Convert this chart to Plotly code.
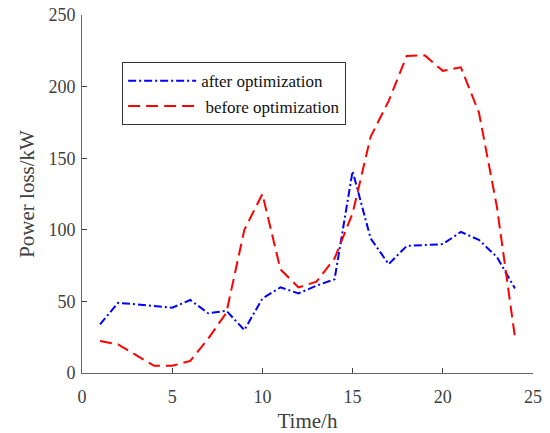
import plotly.graph_objects as go

hours = list(range(1, 25))
after_opt = [34, 49, 48, 47, 45.6, 51, 41.7, 43.5, 30, 52, 59.8, 55.6, 61, 65.4,
             141, 94, 76, 88.7, 89.5, 90, 98.5, 93, 81, 59]
before_opt = [22.3, 20, 12.5, 5, 5, 8.4, 24, 42, 100, 125, 72.4, 59.8, 63.8, 80,
              111.5, 165, 190, 221.4, 221.8, 211, 213.5, 182, 116, 24.9]

x_ticks = [0, 5, 10, 15, 20, 25]
y_ticks = [0, 50, 100, 150, 200, 250]

font_family = "Liberation Serif, Times New Roman, serif"

fig = go.Figure()
fig.add_trace(go.Scatter(
    x=hours, y=after_opt, mode="lines", name="after optimization",
    line=dict(color="#0000FF", width=2, dash="8px,3px,2px,3px"),
))
fig.add_trace(go.Scatter(
    x=hours, y=before_opt, mode="lines", name=" before optimization",
    line=dict(color="#FF0000", width=2, dash="12px,6px"),
))

axis_common = dict(
    showgrid=False, zeroline=False, showline=True, linecolor="#666666", linewidth=1,
    ticks="inside", ticklen=5, tickcolor="#444444",
    tickfont=dict(family=font_family, size=18, color="#404040"),
    mirror=False, automargin=False,
)

fig.update_layout(
    width=550, height=433,
    margin=dict(l=82, r=17, t=15, b=60, autoexpand=False),
    plot_bgcolor="white", paper_bgcolor="white",
    font=dict(family=font_family, color="#404040"),
    xaxis=dict(range=[0, 25], tickvals=x_ticks, ticklabelstandoff=7,
               title=dict(text="Time/h", font=dict(family=font_family, size=21, color="#404040"), standoff=8),
               **axis_common),
    yaxis=dict(range=[0, 250], tickvals=y_ticks, ticklabelstandoff=2,
               title=dict(text="Power loss/kW", font=dict(family=font_family, size=21, color="#404040"), standoff=8),
               **axis_common),
    showlegend=True,
    legend=dict(
        x=0.089, y=0.868, xanchor="left", yanchor="top",
        bgcolor="white", bordercolor="#333333", borderwidth=1,
        font=dict(family=font_family, size=17, color="#111111"),
        itemwidth=68, tracegroupgap=0,
    ),
)

fig.write_html("out.html", post_script="document.body.style.margin='0';",
               config={"displayModeBar": False})
